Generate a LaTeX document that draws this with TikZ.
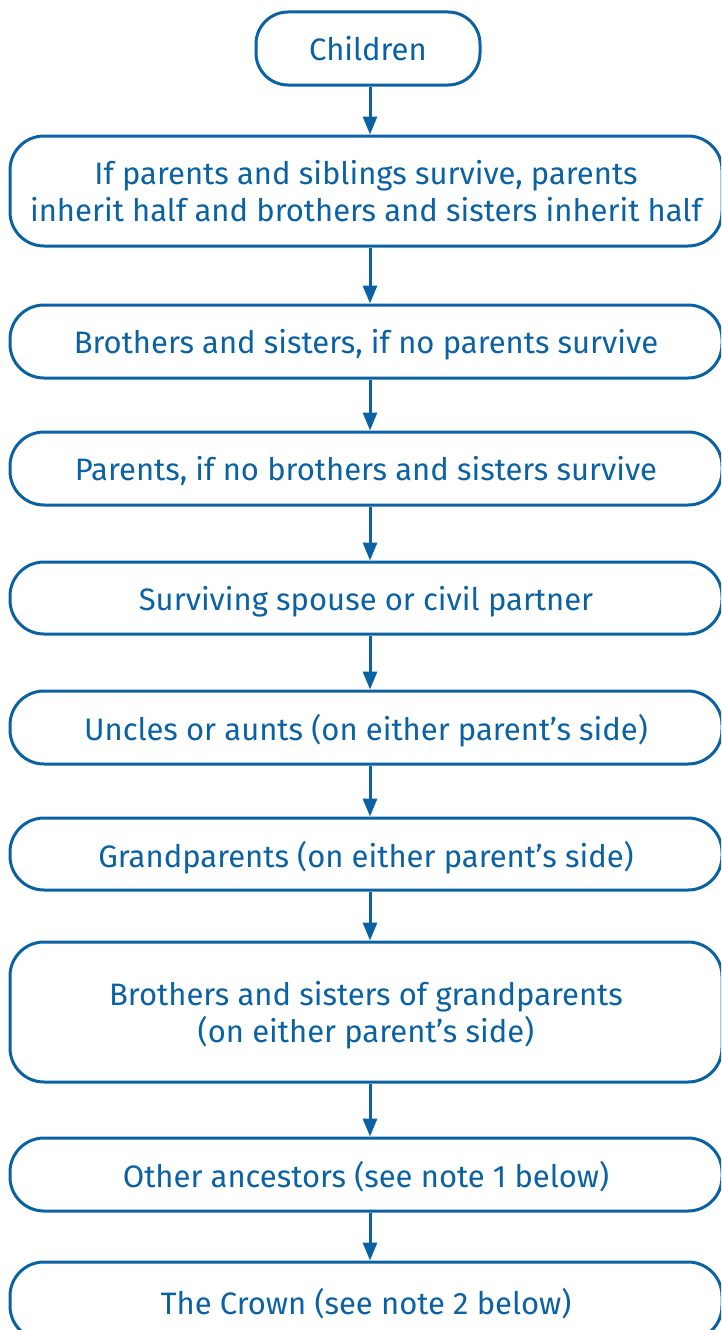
\documentclass[tikz,border=0pt]{standalone}
\usepackage{fontspec}
\setmainfont{Fira Sans}
\usetikzlibrary{arrows.meta}
\definecolor{lblue}{HTML}{0A62A5}
\tikzset{
  stagebox/.style={draw=lblue, line width=3pt, rounded corners=34pt, fill=white,
    text=lblue, align=center, minimum width=712pt, inner sep=0pt, text depth=0pt,
    font=\fontsize{31}{37}\selectfont},
  flowarrow/.style={draw=lblue, line width=3pt, -{Triangle[length=18pt,width=14pt]}},
}
\begin{document}
\begin{tikzpicture}[x=1pt,y=-1pt]
\useasboundingbox (0,0) rectangle (721,1330);
\clip (0,0) rectangle (721,1330);
\coordinate (ax) at (370,0);
\node[stagebox, minimum width=224pt, minimum height=73pt, rounded corners=32pt] (n1) at (368,48.5) {Children};
\node[stagebox, minimum height=110pt] (n2) at (366,191) {If parents and siblings survive, parents\\inherit half and brothers and sisters inherit half};
\node[stagebox, minimum height=73pt] (n3) at (366,341.5) {Brothers and sisters, if no parents survive};
\node[stagebox, minimum height=73pt] (n4) at (366,468.5) {Parents, if no brothers and sisters survive};
\node[stagebox, minimum height=72pt] (n5) at (366,598) {Surviving spouse or civil partner};
\node[stagebox, minimum height=73pt] (n6) at (366,727.5) {Uncles or aunts (on either parent's side)};
\node[stagebox, minimum height=72pt] (n7) at (366,854) {Grandparents (on either parent's side)};
\node[stagebox, minimum height=140pt] (n8) at (366,1012) {Brothers and sisters of grandparents\\(on either parent's side)};
\node[stagebox, minimum height=73pt] (n9) at (366,1174.5) {Other ancestors (see note 1 below)};
\node[stagebox, minimum height=78pt] (n10) at (366,1301) {The Crown (see note 2 below)};
\foreach \a/\b in {n1/n2,n2/n3,n3/n4,n4/n5,n5/n6,n6/n7,n7/n8,n8/n9,n9/n10}
  \draw[flowarrow] (\a.south -| ax) -- (\b.north -| ax);
\end{tikzpicture}
\end{document}
